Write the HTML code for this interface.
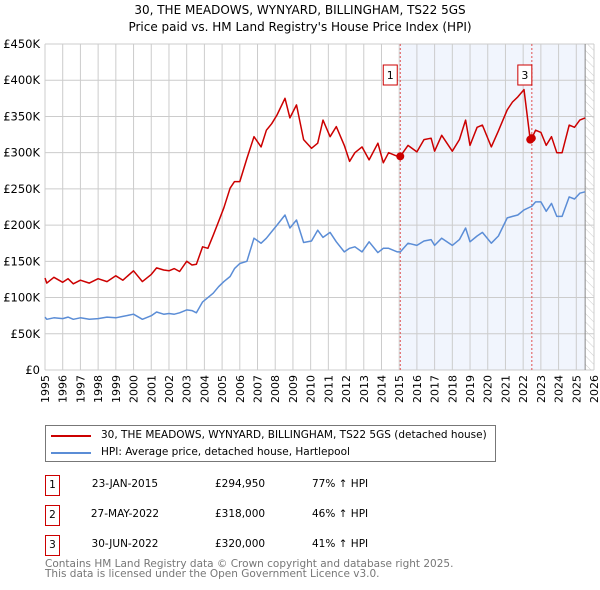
<!DOCTYPE html>
<html><head><meta charset="utf-8"><style>
body{margin:0;background:#fff;font-family:"DejaVu Sans","Liberation Sans",sans-serif;}
#wrap{position:relative;width:600px;height:590px;overflow:hidden}
</style></head><body><div id="wrap">
<svg id="svg" width="600" height="590" xmlns="http://www.w3.org/2000/svg" style="position:absolute;left:0;top:0;font-family:'DejaVu Sans','Liberation Sans',sans-serif">
<defs><pattern id="hatch" width="6" height="6" patternUnits="userSpaceOnUse" patternTransform="rotate(-45)"><line x1="0" y1="0" x2="0" y2="6" stroke="#ccc" stroke-width="1"/></pattern></defs>
<text x="300" y="14" text-anchor="middle" font-size="12" fill="#000">30, THE MEADOWS, WYNYARD, BILLINGHAM, TS22 5GS</text>
<text x="300" y="31" text-anchor="middle" font-size="12" fill="#000">Price paid vs. HM Land Registry's House Price Index (HPI)</text>
<g id="plot"></g>
</svg>
<div style="position:absolute;left:45px;top:425px;width:449px;height:35px;border:1px solid #777;font-size:10.5px">
<div style="position:absolute;left:5px;top:9px;width:40px;height:2px;background:#cc0000"></div>
<div style="position:absolute;left:55px;top:3px;white-space:nowrap">30, THE MEADOWS, WYNYARD, BILLINGHAM, TS22 5GS (detached house)</div>
<div style="position:absolute;left:5px;top:26px;width:40px;height:2px;background:#5b8dd6"></div>
<div style="position:absolute;left:55px;top:20px;white-space:nowrap">HPI: Average price, detached house, Hartlepool</div>
</div>
<div id="table" style="font-size:10.5px"></div>
<div style="position:absolute;left:45px;top:559px;font-size:10.5px;color:#777;line-height:10px">Contains HM Land Registry data © Crown copyright and database right 2025.<br>This data is licensed under the Open Government Licence v3.0.</div>
</div>
<script>
const redYears=[1995.0,1995.1,1995.5,1996.0,1996.3,1996.6,1997.0,1997.5,1998.0,1998.5,1999.0,1999.4,2000.0,2000.5,2001.0,2001.3,2001.7,2002.0,2002.3,2002.6,2003.0,2003.3,2003.55,2003.9,2004.2,2004.5,2004.8,2005.1,2005.45,2005.7,2006.0,2006.4,2006.8,2007.2,2007.5,2007.8,2008.1,2008.55,2008.83,2009.2,2009.6,2010.05,2010.4,2010.7,2011.1,2011.45,2011.9,2012.2,2012.5,2012.9,2013.3,2013.8,2014.1,2014.4,2014.9,2015.06,2015.5,2016.0,2016.4,2016.8,2017.0,2017.4,2018.0,2018.4,2018.75,2019.0,2019.4,2019.7,2020.2,2020.6,2021.1,2021.4,2021.7,2022.05,2022.4,2022.49,2022.7,2023.0,2023.3,2023.6,2023.9,2024.2,2024.6,2024.9,2025.2,2025.5];
const redVals=[127,120,128,121,126,119,124,120,126,122,130,124,137,122,132,141,138,137,140,136,150,145,146,170,168,186,205,224,251,260,260,292,322,308,331,340,352,375,348,366,318,306,313,345,322,336,310,288,300,308,290,313,286,300,295,295,310,301,318,320,302,324,302,318,345,310,335,338,308,330,359,370,377,387,318,320,331,328,310,322,300,300,338,335,345,348];
const hpiYears=[1995.0,1995.1,1995.5,1996.0,1996.3,1996.6,1997.0,1997.5,1998.0,1998.5,1999.0,1999.4,2000.0,2000.5,2001.0,2001.3,2001.7,2002.0,2002.3,2002.6,2003.0,2003.3,2003.55,2003.9,2004.2,2004.5,2004.8,2005.1,2005.45,2005.7,2006.0,2006.4,2006.8,2007.2,2007.5,2007.8,2008.1,2008.55,2008.83,2009.2,2009.6,2010.05,2010.4,2010.7,2011.1,2011.45,2011.9,2012.2,2012.5,2012.9,2013.3,2013.8,2014.1,2014.4,2014.9,2015.06,2015.5,2016.0,2016.4,2016.8,2017.0,2017.4,2018.0,2018.4,2018.75,2019.0,2019.4,2019.7,2020.2,2020.6,2021.1,2021.4,2021.7,2022.05,2022.4,2022.49,2022.7,2023.0,2023.3,2023.6,2023.9,2024.2,2024.6,2024.9,2025.2,2025.5];
const hpiVals=[73,70,72,71,73,70,72,70,71,73,72,74,77,70,75,80,77,78,77,79,83,82,79,94,100,106,115,122,129,140,147,150,182,175,182,191,200,214,196,207,176,178,193,183,190,177,163,168,170,163,177,162,168,168,163,163,175,172,178,180,172,182,172,180,196,177,185,190,175,185,210,212,214,221,225,226,232,232,219,230,212,212,239,236,244,246];
const yTicks=[0,50,100,150,200,250,300,350,400,450];
const yTickLabels=["£0","£50K","£100K","£150K","£200K","£250K","£300K","£350K","£400K","£450K"];
const xTicks=[1995,1996,1997,1998,1999,2000,2001,2002,2003,2004,2005,2006,2007,2008,2009,2010,2011,2012,2013,2014,2015,2016,2017,2018,2019,2020,2021,2022,2023,2024,2025,2026];
const saleYears=[2015.06,2022.40,2022.49];
const saleVals=[294.95,318,320];
const saleIds=["1","2","3"];
const saleDates=["23-JAN-2015","27-MAY-2022","30-JUN-2022"];
const salePrices=["£294,950","£318,000","£320,000"];
const saleHpi=["77% ↑ HPI","46% ↑ HPI","41% ↑ HPI"];

const L=45,R=594,T=44,B=370,X0=1995,X1=2026,YMAX=450;
const sx=y=>L+(y-X0)/(X1-X0)*(R-L);
const sy=v=>B-v/YMAX*(B-T);
const NS="http://www.w3.org/2000/svg";
const g=document.getElementById('plot');
function mk(tag,attrs,parent){const e=document.createElementNS(NS,tag);for(const k in attrs)e.setAttribute(k,attrs[k]);(parent||g).appendChild(e);return e;}
let sh=mk('rect',{x:sx(saleYears[0]),y:T,width:sx(2025.5)-sx(saleYears[0]),height:B-T,fill:'#eef3fc',opacity:0.8});


let ht=mk('rect',{x:sx(2025.5),y:T,width:R-sx(2025.5),height:B-T,fill:'url(#hatch)'});


xTicks.forEach(t=>{
  let l=mk('line',{x1:sx(t),x2:sx(t),y1:T,y2:B,stroke:'#ccc','stroke-width':1});
  
  
  let tx=mk('text',{x:0,y:0,'text-anchor':'end','font-size':11,fill:'#000',transform:'translate('+(sx(t)+4)+',375) rotate(-90)'});
  tx.textContent=t;
  
  
});
yTicks.forEach((t,i)=>{
  let l=mk('line',{x1:L,x2:R,y1:sy(t),y2:sy(t),stroke:'#ccc','stroke-width':1});
  
  
  let tx=mk('text',{x:40,y:sy(t)+4,'text-anchor':'end','font-size':11.5,fill:'#000'});
  tx.textContent=yTickLabels[i];
  
  
});
let bl=mk('line',{x1:sx(2025.5),x2:sx(2025.5),y1:T,y2:B,stroke:'#888','stroke-width':1});


[0,2].forEach(i=>{
  let l=mk('line',{x1:sx(saleYears[i]),x2:sx(saleYears[i]),y1:T,y2:B,stroke:'#e05050','stroke-width':1,'stroke-dasharray':'2,2'});
  
  
});
function path(xs,vs,col,name){
  let d=xs.map((x,i)=>(i?'L':'M')+sx(x).toFixed(1)+','+sy(vs[i]).toFixed(1)).join('');
  let p=mk('path',{d:d,fill:'none',stroke:col,'stroke-width':1.5,'stroke-linejoin':'round'});
  
  
}
path(hpiYears,hpiVals,'#5b8dd6','hpi-line');
path(redYears,redVals,'#cc0000','property-price-line');
saleYears.forEach((y,i)=>{
  let c=mk('circle',{cx:sx(y),cy:sy(saleVals[i]),r:4,fill:'#cc0000'});
  
  
});
[0,2].forEach(i=>{
  let bx=sx(saleYears[i])-(i==0?10:7), by=65;
  let r=mk('rect',{x:bx-7,y:by,width:14,height:20,fill:'#fff',stroke:'#cc0000','stroke-width':1});
  
  
  let t=mk('text',{x:bx,y:by+14,'text-anchor':'middle','font-size':11,fill:'#000'});
  t.textContent=saleIds[i];
  
  
});
const tb=document.getElementById('table');
saleIds.forEach((id,i)=>{
  const top=475+i*30;
  const row=document.createElement('div');
  
  
  row.style.cssText='position:absolute;left:0;top:'+top+'px;width:600px;height:20px';
  row.innerHTML='<div style="position:absolute;left:45px;top:0;width:13px;height:19px;border:1px solid #cc0000;text-align:center;line-height:18px">'+id+'</div>'+
  '<div style="position:absolute;left:85px;width:80px;text-align:center;top:3px">'+saleDates[i]+'</div>'+
  '<div style="position:absolute;left:215px;top:3px">'+salePrices[i]+'</div>'+
  '<div style="position:absolute;left:312px;top:3px">'+saleHpi[i]+'</div>';
  tb.appendChild(row);
});
</script>
</body></html>
